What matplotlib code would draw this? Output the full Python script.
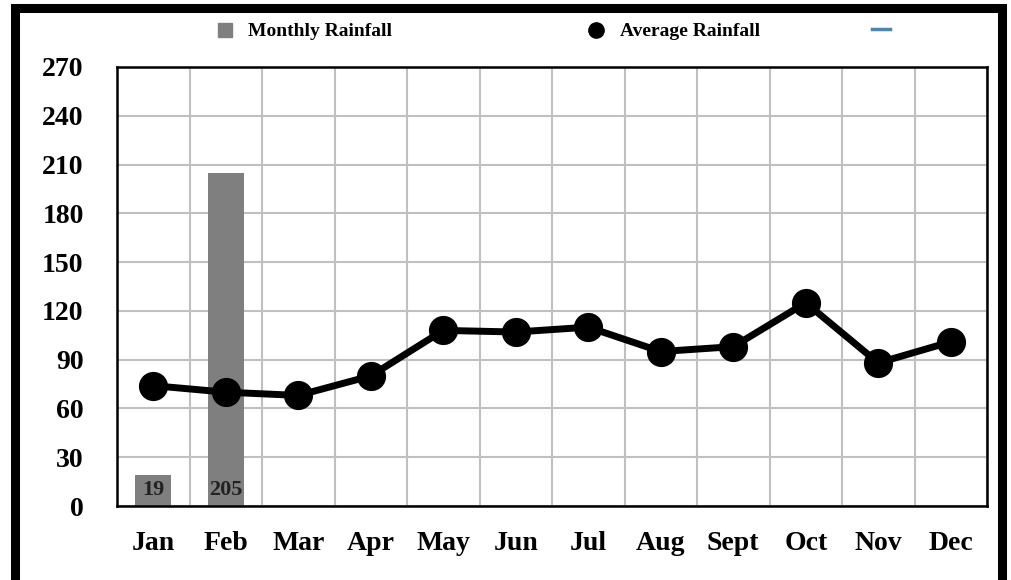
import numpy as np
import matplotlib.pyplot as plt
from matplotlib.patches import Rectangle
from matplotlib.lines import Line2D

# donnees
months = ['Jan', 'Feb', 'Mar', 'Apr', 'May', 'Jun', 'Jul', 'Aug', 'Sept', 'Oct', 'Nov', 'Dec']
monthly_rainfall = [19, 205]
average_rainfall = [74, 70, 68, 80, 108, 107, 110, 95, 98, 125, 88, 101]
yticks = [0, 30, 60, 90, 120, 150, 180, 210, 240, 270]

plt.rcParams['font.family'] = ['Liberation Serif', 'DejaVu Serif']
plt.rcParams['font.weight'] = 'bold'

W, H = 1011, 580
fig = plt.figure(figsize=(W/100, H/100), dpi=100)
ax = fig.add_axes([117/W, 1 - 506/H, 870/W, 439/H])

x = np.arange(len(months))
bx = x[:len(monthly_rainfall)]
ax.bar(bx, monthly_rainfall, width=0.5, color='#7f7f7f', zorder=2)
for xi, v in zip(bx, monthly_rainfall):
    ax.text(xi, 10, str(v), ha='center', va='center', fontsize=16,
            fontweight='bold', color='#222222', zorder=3)

ax.plot(x, average_rainfall, color='black', lw=5, marker='o', ms=20, zorder=4)

ax.set_xlim(-0.5, len(months) - 0.5)
ax.set_ylim(0, 270)
ax.set_yticks(yticks)
ax.set_yticklabels([str(t) for t in yticks], fontsize=20, fontweight='bold')
ax.set_xticks(x)
ax.set_xticklabels(months, fontsize=20, fontweight='bold')
ax.set_xticks(np.arange(-0.5, len(months)), minor=True)
ax.tick_params(axis='both', which='both', length=0)
ax.tick_params(axis='y', pad=24)
ax.tick_params(axis='x', pad=18)
ax.grid(True, axis='y', color='#c0c0c0', lw=1.5, zorder=0)
ax.grid(True, axis='x', which='minor', color='#c0c0c0', lw=1.5, zorder=0)
ax.set_axisbelow(True)
for s in ax.spines.values():
    s.set_linewidth(1.8)
    s.set_color('black')

# legende (placee a la main)
ly = 1 - 31/H
fig.patches.append(Rectangle((218/W, 1 - 37/H), 14/W, 14/H, transform=fig.transFigure,
                             color='#7f7f7f'))
fig.text(248/W, ly, 'Monthly Rainfall', fontsize=14, fontweight='bold', va='center')
fig.add_artist(Line2D([596/W], [1 - 30/H], marker='o', ms=11, color='black', lw=0,
                      transform=fig.transFigure))
fig.text(620/W, ly, 'Average Rainfall', fontsize=14, fontweight='bold', va='center')
fig.add_artist(Line2D([872/W, 890/W], [1 - 29/H] * 2, color='#4a86b0', lw=2.5,
                      transform=fig.transFigure))

# cadre noir
fig.patches.append(Rectangle((15/W, -0.1), 987/W, 1.1 - 8/H, transform=fig.transFigure,
                             fill=False, edgecolor='black', lw=6.5, zorder=10))

fig.savefig('out.png', dpi=100)
